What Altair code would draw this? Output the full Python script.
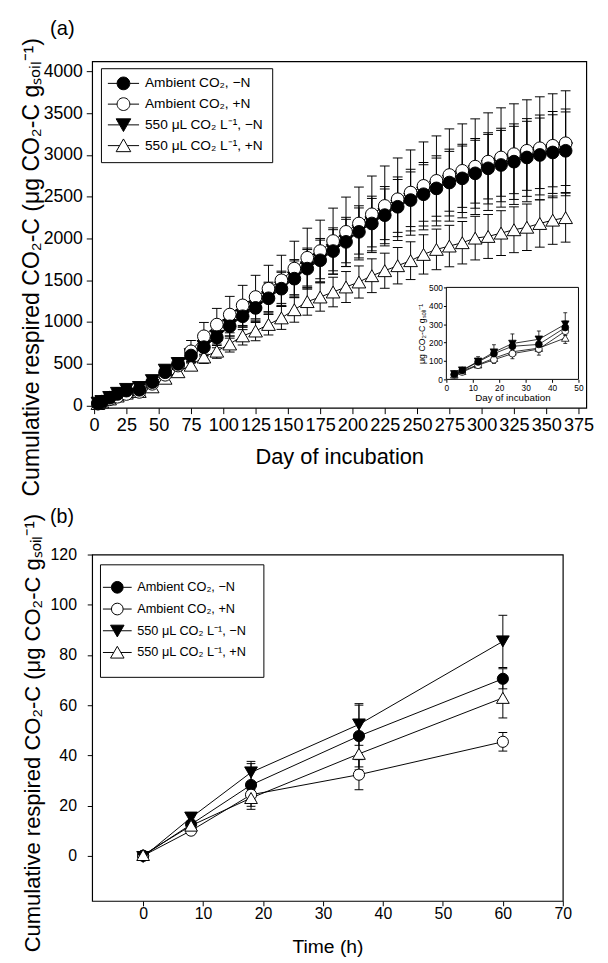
import altair as alt
import pandas as pd

FONT = "Liberation Sans"

SERIES = ["Ambient CO₂, −N", "Ambient CO₂, +N", "550 μL CO₂ L⁻¹, −N", "550 μL CO₂ L⁻¹, +N"]
MARK_SHAPES = ["circle", "circle", "triangle-down", "triangle-up"]
MARK_FILLS = ["black", "white", "black", "white"]

# ---------------- panel (a): long incubation ----------------
days = [3, 6, 12, 18, 25, 35, 45, 55, 65, 75, 85, 95, 105, 115, 125, 135, 145, 155, 165, 175,
        185, 195, 205, 215, 225, 235, 245, 255, 265, 275, 285, 295, 305, 315, 325, 335, 345, 355, 365]
a_amb_noN = [28, 48, 95, 140, 180, 190, 282, 400, 500, 600, 700, 815, 950, 1070, 1170, 1285, 1400, 1520, 1640, 1740,
             1850, 1960, 2080, 2180, 2280, 2380, 2460, 2530, 2600, 2670, 2720, 2780, 2840, 2880, 2920, 2970, 3000, 3030, 3050]
a_amb_N = [24, 40, 77, 107, 140, 165, 262, 370, 480, 650, 830, 970, 1090, 1200, 1300, 1400, 1500, 1640, 1770, 1850,
           1970, 2080, 2180, 2290, 2390, 2470, 2550, 2630, 2690, 2760, 2810, 2860, 2920, 2970, 3010, 3050, 3080, 3110, 3140]
a_e550_noN = [30, 50, 98, 148, 195, 218, 300, 425, 505, 610, 710, 830, 960, 1080, 1180, 1295, 1410, 1530, 1650, 1750,
              1860, 1970, 2090, 2190, 2290, 2390, 2470, 2545, 2615, 2685, 2740, 2800, 2860, 2900, 2940, 2990, 3020, 3050, 3075]
a_e550_N = [25, 45, 80, 115, 150, 170, 225, 328, 406, 484, 582, 652, 738, 835, 893, 972, 1050, 1148, 1245, 1300,
            1360, 1420, 1480, 1555, 1615, 1675, 1735, 1810, 1870, 1910, 1950, 2005, 2025, 2065, 2105, 2135, 2180, 2220, 2250]

a_amb_noN_se = [4, 6, 12, 18, 22, 25, 35, 60, 75, 90, 105, 122, 142, 160, 175, 193, 210, 228, 246, 261,
                278, 294, 312, 327, 342, 357, 369, 380, 390, 400, 408, 417, 426, 440, 452, 465, 478, 490, 500]
a_amb_N_se = [4, 8, 15, 21, 28, 33, 45, 74, 96, 130, 166, 194, 218, 240, 260, 280, 300, 328, 354, 370,
              394, 416, 436, 458, 478, 494, 510, 526, 538, 552, 562, 572, 584, 594, 602, 610, 616, 622, 628]
a_e550_noN_se = [5, 8, 25, 40, 52, 45, 62, 60, 70, 82, 95, 110, 127, 142, 156, 171, 186, 202, 218, 231,
                 246, 260, 276, 290, 303, 316, 327, 338, 348, 358, 367, 376, 386, 394, 403, 413, 422, 431, 440]
a_e550_N_se = [3, 6, 10, 15, 20, 22, 29, 43, 53, 63, 76, 85, 96, 109, 116, 126, 137, 149, 162, 169,
               177, 185, 192, 202, 210, 218, 226, 235, 243, 248, 254, 261, 263, 268, 274, 278, 283, 289, 293]

# ---------------- panel (b): short incubation ----------------
hours = [0, 8, 18, 36, 60]
b_amb_noN = [0.0, 12.5, 28.2, 47.7, 70.5]
b_amb_N = [0.0, 10.0, 24.3, 32.3, 45.4]
b_e550_noN = [-0.5, 15.2, 33.2, 52.3, 85.4]
b_e550_N = [0.3, 12.0, 23.0, 40.6, 62.9]
b_amb_noN_se = [0.5, 1.2, 8.5, 12.3, 4.0]
b_amb_N_se = [0.5, 1.2, 2.0, 6.0, 3.7]
b_e550_noN_se = [0.5, 1.5, 4.4, 8.3, 10.4]
b_e550_N_se = [0.5, 1.5, 4.5, 6.4, 8.0]

PANEL_LABELS = ["(a)", "(b)"]
TITLE_A = "Cumulative respired CO₂-C  (μg CO₂-C gₛₒᵢₗ⁻¹)"
TITLE_B = "Cumulative respired CO₂-C (μg CO₂-C gₛₒᵢₗ⁻¹)"


def build(xs, means, ses):
    rows = []
    for name, m, e in zip(SERIES, means, ses):
        for xv, mv, ev in zip(xs, m, e):
            rows.append({"x": xv, "y": mv, "lo": mv - ev, "hi": mv + ev, "series": name})
    return pd.DataFrame(rows)


df_a = build(days, [a_amb_noN, a_amb_N, a_e550_noN, a_e550_N],
             [a_amb_noN_se, a_amb_N_se, a_e550_noN_se, a_e550_N_se])
df_b = build(hours, [b_amb_noN, b_amb_N, b_e550_noN, b_e550_N],
             [b_amb_noN_se, b_amb_N_se, b_e550_noN_se, b_e550_N_se])
df_in = df_a[df_a["x"] <= 45]

# legend symbols: marker with a line through it (custom SVG paths)
LL = 2.45
LEG_PATHS = [
    f"M{-LL},0H-1M1,0H{LL}M1,0A1,1,0,1,1,-1,0A1,1,0,1,1,1,0Z",
    f"M{-LL},0H-1M1,0H{LL}M1,0A1,1,0,1,1,-1,0A1,1,0,1,1,1,0Z",
    f"M{-LL},0H-0.6M0.6,0H{LL}M-1.15,-0.95L1.15,-0.95L0,1.05Z",
    f"M{-LL},0H-0.6M0.6,0H{LL}M0,-1.05L1.15,0.95L-1.15,0.95Z",
]


def make_legend(lx, ly, fsize, ssize, soff, loff, rpad, pad):
    return alt.Legend(
        title=None, orient="none", legendX=lx, legendY=ly, direction="vertical",
        labelFont=FONT, labelFontSize=fsize, labelColor="black", labelLimit=300,
        symbolSize=ssize, symbolStrokeColor="black", symbolStrokeWidth=1, symbolOpacity=1,
        symbolOffset=soff, labelOffset=loff, rowPadding=rpad, padding=pad,
        strokeColor="black", fillColor="white",
    )


def panel_label(text, px, py, size):
    return alt.Chart(pd.DataFrame({"label": [text]})).mark_text(
        align="left", baseline="alphabetic", font=FONT, fontSize=size, color="black"
    ).encode(text="label:N", x=alt.value(px), y=alt.value(py))


def panel(df, xdom, ydom, xaxis, yaxis, order, sizes, cap, legend):
    def X(f):
        return alt.X(f"{f}:Q", scale=alt.Scale(domain=xdom, nice=False, zero=False), axis=xaxis)

    def Y(f):
        return alt.Y(f"{f}:Q", scale=alt.Scale(domain=ydom, nice=False, zero=False), axis=yaxis)

    base = alt.Chart(df)
    lines = base.mark_line(color="black", strokeWidth=1).encode(x=X("x"), y=Y("y"), detail="series:N")
    rules = base.mark_rule(color="black", strokeWidth=1).encode(x=X("x"), y=Y("lo"), y2="hi")
    caps = base.transform_fold(["lo", "hi"], as_=["end", "cap"]).mark_tick(
        orient="horizontal", size=cap, thickness=1, color="black", opacity=1
    ).encode(x=X("x"), y=Y("cap"))
    pts = []
    for i in order:
        d = df[df["series"] == SERIES[i]]
        pts.append(
            alt.Chart(d).mark_point(shape=MARK_SHAPES[i], fill=MARK_FILLS[i], size=sizes[i], opacity=1,
                                    strokeWidth=1, stroke="black").encode(x=X("x"), y=Y("y"))
        )
    # invisible layer that only carries the legend
    leg = base.mark_point(opacity=0).encode(
        x=X("x"), y=Y("y"),
        shape=alt.Shape("series:N", scale=alt.Scale(domain=SERIES, range=LEG_PATHS), legend=legend),
        fill=alt.Fill("series:N", scale=alt.Scale(domain=SERIES, range=MARK_FILLS), legend=legend),
        stroke=alt.Stroke("series:N", scale=alt.Scale(domain=SERIES, range=["black"] * 4), legend=legend),
    )
    return alt.layer(lines, rules, caps, *pts, leg)


# ---- panel (a)
ax_a_x = alt.Axis(values=list(range(0, 376, 25)), format="d", title="Day of incubation", labelFontSize=18.5,
                  titleFontSize=22.3, titleFontWeight="normal", tickSize=6, labelPadding=2, titlePadding=12,
                  labelFlush=False, labelOverlap=False)
ax_a_y = alt.Axis(values=list(range(0, 4001, 500)), format="d", title=TITLE_A, labelFontSize=18,
                  titleFontSize=23.5, titleFontWeight="normal", tickSize=6, labelPadding=4, titlePadding=0,
                  titleY=210, labelOverlap=False)
leg_a = make_legend(9, 7, 14, 169, 7.5, 15, 3.2, 8.5)
main_a = panel(df_a, [-1.5, 381], [-25, 4120], ax_a_x, ax_a_y, [3, 2, 1, 0],
               [169, 169, 196, 196], 10, leg_a)

# inset of panel (a)
ax_i_x = alt.Axis(orient="bottom", offset=-29, values=list(range(0, 51, 10)), title="Day of incubation",
                  labelFontSize=8.5, titleFontSize=10, titleFontWeight="normal", tickSize=3, labelPadding=1,
                  titlePadding=1, labelFlush=False, labelOverlap=False)
ax_i_y = alt.Axis(orient="left", offset=-362, values=list(range(0, 501, 100)), title="μg CO₂-C gₛₒᵢₗ⁻¹",
                  labelFontSize=8.5, titleFontSize=9, titleFontWeight="normal", tickSize=3, labelPadding=1,
                  titlePadding=2, labelOverlap=False)


def IX(f):
    return alt.X(f"{f}:Q", scale=alt.Scale(domain=[0, 50], range=[362, 497], nice=False, zero=False), axis=ax_i_x)


def IY(f):
    return alt.Y(f"{f}:Q", scale=alt.Scale(domain=[0, 500], range=[325, 231], nice=False, zero=False), axis=ax_i_y)


frame_df = pd.DataFrame({"x0": [0], "x1": [50], "y0": [0], "y1": [500]})
in_frame = alt.Chart(frame_df).mark_rect(fill="white", stroke="black", strokeWidth=1).encode(
    x=IX("x0"), x2="x1", y=IY("y0"), y2="y1")
in_base = alt.Chart(df_in)
in_lines = in_base.mark_line(color="black", strokeWidth=0.8).encode(x=IX("x"), y=IY("y"), detail="series:N")
in_rules = in_base.mark_rule(color="black", strokeWidth=0.8).encode(x=IX("x"), y=IY("lo"), y2="hi")
in_caps = in_base.transform_fold(["lo", "hi"], as_=["end", "cap"]).mark_tick(
    orient="horizontal", size=4, thickness=0.8, color="black", opacity=1).encode(x=IX("x"), y=IY("cap"))
in_pts = []
for i in [3, 2, 1, 0]:
    d = df_in[df_in["series"] == SERIES[i]]
    in_pts.append(alt.Chart(d).mark_point(
        shape=MARK_SHAPES[i], fill=MARK_FILLS[i], stroke="black", strokeWidth=0.8, opacity=1,
        size=[49, 49, 60, 60][i]).encode(x=IX("x"), y=IY("y")))
inset = alt.layer(in_frame, in_lines, in_rules, in_caps, *in_pts)

chart_a = alt.layer(main_a, inset, panel_label(PANEL_LABELS[0], -43, -27, 20.5)).resolve_scale(
    x="independent", y="independent").properties(width=505, height=354)

# ---- panel (b)
ax_b_x = alt.Axis(values=list(range(0, 71, 10)), title="Time (h)", labelFontSize=16.2, titleFontSize=19.7,
                  titleFontWeight="normal", tickSize=5, labelPadding=0, titlePadding=16,
                  labelFlush=False, labelOverlap=False)
ax_b_y = alt.Axis(values=list(range(0, 121, 20)), title=TITLE_B, labelFontSize=16.2, titleFontSize=22.5,
                  titleFontWeight="normal", tickSize=5, labelPadding=11, titlePadding=6, titleY=182,
                  labelOverlap=False)
leg_b = make_legend(8, 10, 13, 144, -5.8, 13.8, 5.2, 17)
main_b = panel(df_b, [-8.5, 70], [-18, 120], ax_b_x, ax_b_y, [0, 1, 2, 3],
               [130, 130, 169, 169], 9, leg_b)
chart_b = alt.layer(main_b, panel_label(PANEL_LABELS[1], -43, -32, 20)).properties(width=481, height=354)

chart = alt.vconcat(chart_a, chart_b, spacing=150, bounds="flush").resolve_scale(
    x="independent", y="independent", shape="independent", fill="independent", stroke="independent"
).resolve_legend(shape="independent", fill="independent", stroke="independent").properties(
    padding={"left": 11, "top": 0, "right": 5, "bottom": 0}
).configure_view(stroke="black", strokeWidth=1.2).configure_axis(
    grid=False, domain=False, labelFont=FONT, titleFont=FONT, labelColor="black", titleColor="black",
    tickColor="black", tickWidth=1, titleFontWeight="normal"
)

chart.save("out.html", embed_options={"renderer": "svg", "actions": False})
